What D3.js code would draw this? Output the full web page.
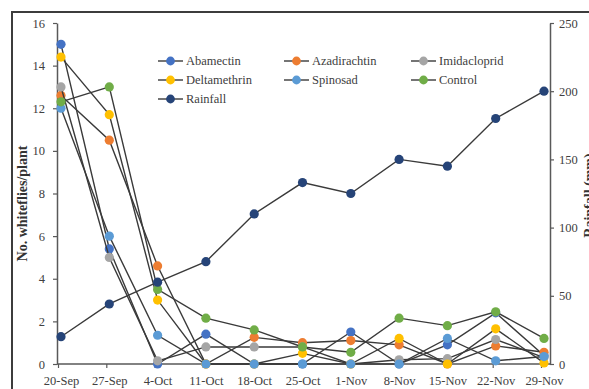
<!DOCTYPE html>
<html>
<head>
<meta charset="utf-8">
<script src="https://cdn.jsdelivr.net/npm/d3@7"></script>
<style>
  html, body { margin: 0; padding: 0; background: #fff; }
  svg { display: block; }
  text { font-family: "Liberation Serif", "Times New Roman", serif; }
</style>
</head>
<body>
<svg id="chart" width="589" height="389"></svg>
<script>
// Sampling dates
const dates = ["20-Sep","27-Sep","4-Oct","11-Oct","18-Oct","25-Oct","1-Nov","8-Nov","15-Nov","22-Nov","29-Nov"];

// Whitefly counts per plant for each treatment
const abamectin    = [15.0, 5.4, 0,    1.4,  0,    0,   1.5,  0,    0.9,  2.4,  0.4];
const azadirachtin = [12.6, 10.5, 4.6, 0,    1.25, 1.0, 1.1,  0.9,  0,    0.85, 0.55];
const imidacloprid = [13.0, 5.0, 0.15, 0.8,  0.8,  0.8, 0,    0.2,  0.25, 1.15, 0.3];
const deltamethrin = [14.4, 11.7, 3.0, 0,    0,    0.5, 0,    1.2,  0,    1.65, 0.05];
const spinosad     = [12.0, 6.0, 1.35, 0,    0,    0,   0,    0,    1.2,  0.15, 0.35];
const control      = [12.3, 13.0, 3.5, 2.15, 1.6,  0.8, 0.55, 2.15, 1.8,  2.45, 1.2];

// Weekly rainfall (mm), secondary axis
const rainfall = [20, 44, 60, 75, 110, 133, 125, 150, 145, 180, 200];

// Axis tick values
const leftTicks = [0, 2, 4, 6, 8, 10, 12, 14, 16];
const rightTicks = [0, 50, 100, 150, 200, 250];

const series = [
  { name: "Abamectin",    values: abamectin,    color: "#4472C4", axis: "left" },
  { name: "Azadirachtin", values: azadirachtin, color: "#ED7D31", axis: "left" },
  { name: "Imidacloprid", values: imidacloprid, color: "#A5A5A5", axis: "left" },
  { name: "Deltamethrin", values: deltamethrin, color: "#FFC000", axis: "left" },
  { name: "Spinosad",     values: spinosad,     color: "#5B9BD5", axis: "left" },
  { name: "Control",      values: control,      color: "#70AD47", axis: "left" },
  { name: "Rainfall",     values: rainfall,     color: "#264478", axis: "right" }
];

const svg = d3.select("#chart");
const plot = { left: 57, right: 550, top: 23, bottom: 364 };

const x = d3.scalePoint().domain(dates).range([61, 544]);
const yL = d3.scaleLinear().domain([0, 16]).range([plot.bottom, plot.top]);
const yR = d3.scaleLinear().domain([0, 250]).range([plot.bottom, plot.top]);

const axisColor = "#595959";
const labelColor = "#404040";

// Outer frame
svg.append("path")
  .attr("d", "M12,400 L12,12 L600,12")
  .attr("fill", "none")
  .attr("stroke", "#3c3c3c")
  .attr("stroke-width", 2);

function styleAxis(g) {
  g.select(".domain").attr("stroke", axisColor).attr("stroke-width", 1.5);
  g.selectAll(".tick line").attr("stroke", axisColor).attr("stroke-width", 1.2);
  g.selectAll(".tick text")
    .attr("fill", labelColor)
    .style("font-size", "12.5px")
    .style("font-family", "'Liberation Serif', 'Times New Roman', serif");
}

// Left axis
const gL = svg.append("g")
  .attr("transform", `translate(${plot.left},0)`)
  .call(d3.axisLeft(yL).tickValues(leftTicks).tickSize(4).tickPadding(8).tickSizeOuter(0));
styleAxis(gL);

// Right axis
const gR = svg.append("g")
  .attr("transform", `translate(${plot.right},0)`)
  .call(d3.axisRight(yR).tickValues(rightTicks).tickSize(4).tickPadding(5).tickSizeOuter(0));
styleAxis(gR);

// Bottom axis
const gB = svg.append("g")
  .attr("transform", `translate(0,${plot.bottom})`)
  .call(d3.axisBottom(x).tickSize(4).tickPadding(8).tickSizeOuter(0));
gB.select(".domain").attr("d", `M${plot.left},0H${plot.right}`);
styleAxis(gB);
gB.selectAll(".tick line").attr("transform", "translate(-3,0)");

// Axis titles
svg.append("text")
  .attr("transform", `translate(27,${(plot.top + plot.bottom) / 2 + 10}) rotate(-90)`)
  .attr("text-anchor", "middle")
  .attr("fill", "#333")
  .style("font-size", "14px")
  .style("font-weight", "bold")
  .text("No. whiteflies/plant");

svg.append("text")
  .attr("transform", `translate(594,${(plot.top + plot.bottom) / 2 + 2}) rotate(-90)`)
  .attr("text-anchor", "middle")
  .attr("fill", "#333")
  .style("font-size", "14px")
  .style("font-weight", "bold")
  .text("Rainfall (mm)");

// Series: line then markers, in drawing order
const lineColor = "#3a3a3a";
series.forEach(s => {
  const yS = s.axis === "left" ? yL : yR;
  const line = d3.line().x((d, i) => x(dates[i])).y(d => yS(d));
  const g = svg.append("g");
  g.append("path")
    .datum(s.values)
    .attr("d", line)
    .attr("fill", "none")
    .attr("stroke", lineColor)
    .attr("stroke-width", 1.4);
  g.selectAll("circle")
    .data(s.values)
    .join("circle")
    .attr("cx", (d, i) => x(dates[i]))
    .attr("cy", d => yS(d))
    .attr("r", 4.6)
    .attr("fill", s.color);
});

// Legend: three columns, row-major
const legendCols = [158, 284, 411];
const legendRows = [61, 80, 99];
const legend = svg.append("g");
series.forEach((s, i) => {
  const cx = legendCols[i % 3];
  const cy = legendRows[Math.floor(i / 3)];
  const item = legend.append("g").attr("transform", `translate(${cx},${cy})`);
  item.append("line")
    .attr("x1", 0).attr("x2", 25).attr("y1", 0).attr("y2", 0)
    .attr("stroke", lineColor).attr("stroke-width", 1.4);
  item.append("circle").attr("cx", 12.5).attr("cy", 0).attr("r", 4.4).attr("fill", s.color);
  item.append("text")
    .attr("x", 28).attr("y", 0).attr("dy", "0.35em")
    .attr("fill", labelColor)
    .style("font-size", "12.5px")
    .text(s.name);
});
</script>
</body>
</html>
